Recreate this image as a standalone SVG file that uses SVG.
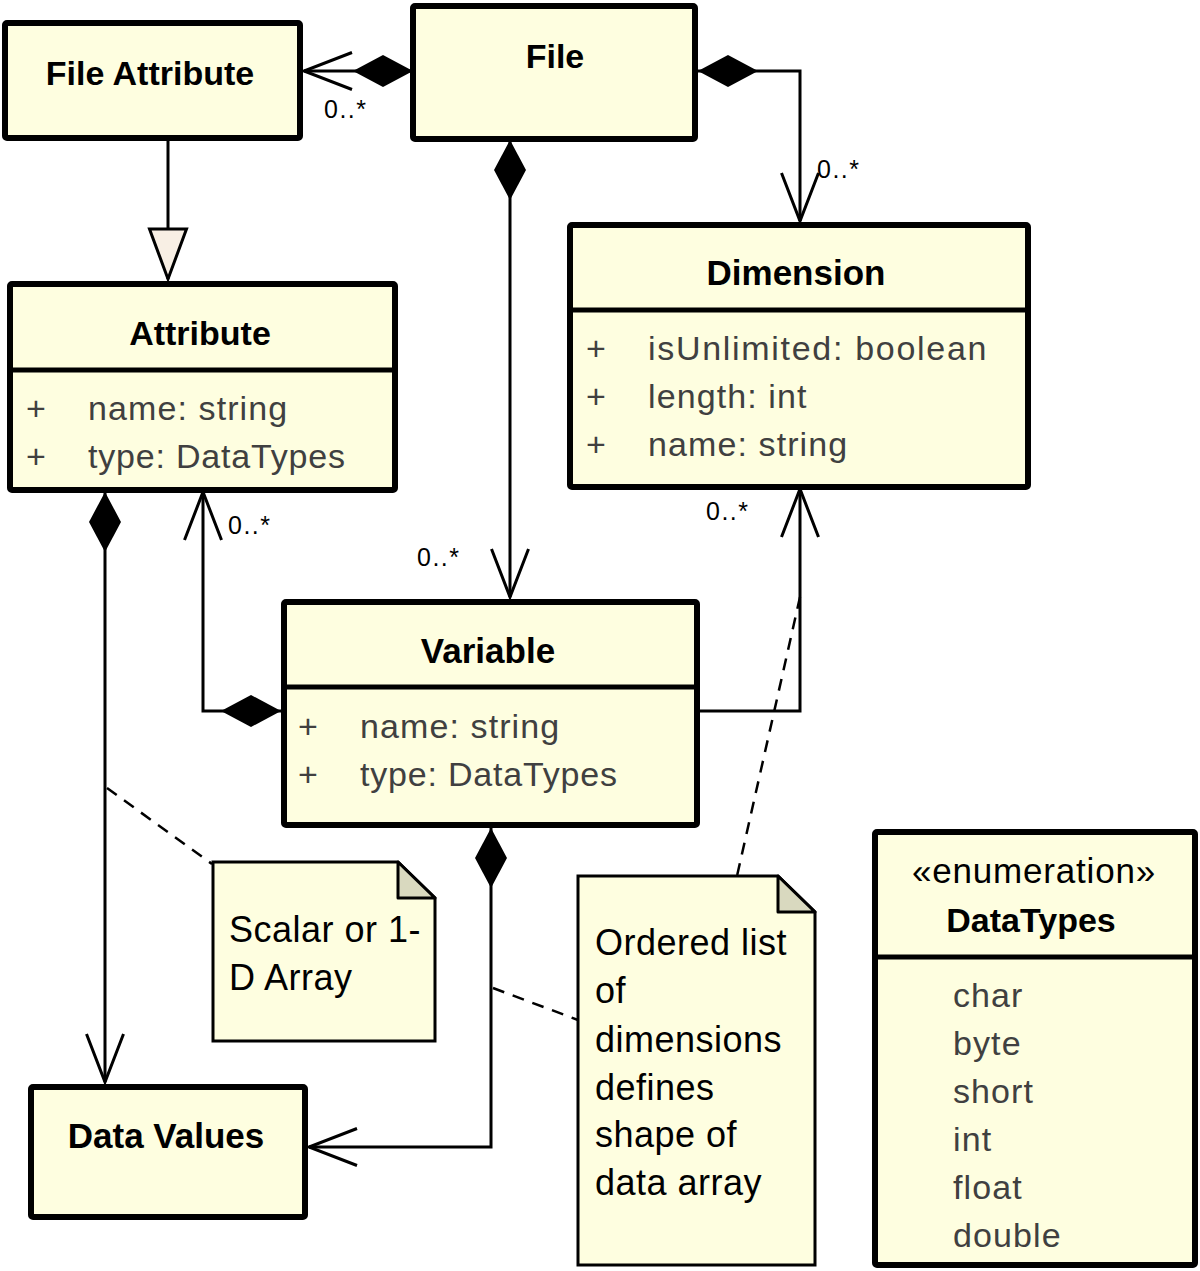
<svg xmlns="http://www.w3.org/2000/svg" width="1200" height="1271" viewBox="0 0 1200 1271">
<style>
.box{fill:#fefee0;stroke:#000;stroke-width:6}
.sep{stroke:#000;stroke-width:5}
.note{fill:#fefee0;stroke:#000;stroke-width:3}
.fold{fill:#d9d9bf;stroke:#000;stroke-width:3;stroke-linejoin:round}
.title{font-family:"Liberation Sans",Arial,sans-serif;font-weight:bold;font-size:34px;fill:#000;text-anchor:middle}
.attr{font-family:"Liberation Sans",Arial,sans-serif;font-size:34px;fill:#404040;letter-spacing:1.1px}
.ntxt{font-family:"Liberation Sans",Arial,sans-serif;font-size:36px;fill:#000;letter-spacing:0.5px}
.mult{font-family:"Liberation Sans",Arial,sans-serif;font-size:25px;fill:#000;letter-spacing:1.5px}
.line{fill:none;stroke:#000;stroke-width:3}
.dash{fill:none;stroke:#000;stroke-width:2.5;stroke-dasharray:12 9}
</style>
<defs>
<marker id="diamond" markerUnits="userSpaceOnUse" markerWidth="70" markerHeight="40" refX="0" refY="0" orient="auto" overflow="visible">
<path d="M0,0 L30,-16 L60,0 L30,16 Z" fill="#000"/>
</marker>
<marker id="open" markerUnits="userSpaceOnUse" markerWidth="60" markerHeight="40" refX="0" refY="0" orient="auto" overflow="visible">
<path d="M-48,-18.5 L0,0 L-48,18.5" fill="none" stroke="#000" stroke-width="3"/>
</marker>
<marker id="tri" markerUnits="userSpaceOnUse" markerWidth="60" markerHeight="40" refX="0" refY="0" orient="auto" overflow="visible">
<path d="M0,0 L-50,-18.5 L-50,18.5 Z" fill="#f8efe4" stroke="#000" stroke-width="3" stroke-linejoin="miter"/>
</marker>
</defs>

<g id="connectors">
<path class="line" d="M413,71 L304,71" marker-start="url(#diamond)" marker-end="url(#open)"/>
<path class="line" d="M698,71 L800,71 L800,221" marker-start="url(#diamond)" marker-end="url(#open)"/>
<path class="line" d="M510,140 L510,597" marker-start="url(#diamond)" marker-end="url(#open)"/>
<path class="line" d="M168,141 L168,279" marker-end="url(#tri)"/>
<path class="line" d="M105,492 L105,1082" marker-start="url(#diamond)" marker-end="url(#open)"/>
<path class="line" d="M281,711 L203,711 L203,492" marker-start="url(#diamond)" marker-end="url(#open)"/>
<path class="line" d="M699,711 L800,711 L800,489" marker-end="url(#open)"/>
<path class="line" d="M491,828 L491,1147 L309,1147" marker-start="url(#diamond)" marker-end="url(#open)"/>
<path class="dash" d="M107,788 L212,864"/>
<path class="dash" d="M493,988 L578,1020"/>
<path class="dash" d="M800,597 L737,876"/>
<text class="mult" x="324" y="118">0..*</text>
<text class="mult" x="817" y="178">0..*</text>
<text class="mult" x="417" y="566">0..*</text>
<text class="mult" x="228" y="534">0..*</text>
<text class="mult" x="706" y="520">0..*</text>
</g>

<g id="file-attribute">
<rect class="box" x="5" y="23" width="295" height="115" rx="2"/>
<text class="title" x="150" y="85">File Attribute</text>
</g>

<g id="file">
<rect class="box" x="413" y="6" width="282" height="133" rx="2"/>
<text class="title" x="555" y="68">File</text>
</g>

<g id="dimension">
<rect class="box" x="570" y="225" width="458" height="262" rx="2"/>
<line class="sep" x1="570" y1="310" x2="1028" y2="310"/>
<text class="title" x="796" y="285" style="font-size:35px">Dimension</text>
<text class="attr" x="586" y="360">+</text>
<text class="attr" x="648" y="360" style="letter-spacing:1.7px">isUnlimited: boolean</text>
<text class="attr" x="586" y="408">+</text>
<text class="attr" x="648" y="408">length: int</text>
<text class="attr" x="586" y="456">+</text>
<text class="attr" x="648" y="456">name: string</text>
</g>

<g id="attribute">
<rect class="box" x="10" y="284" width="385" height="206" rx="2"/>
<line class="sep" x1="10" y1="370" x2="395" y2="370"/>
<text class="title" x="200" y="345">Attribute</text>
<text class="attr" x="26" y="420">+</text>
<text class="attr" x="88" y="420">name: string</text>
<text class="attr" x="26" y="468">+</text>
<text class="attr" x="88" y="468" style="letter-spacing:0.8px">type: DataTypes</text>
</g>

<g id="variable">
<rect class="box" x="284" y="602" width="413" height="223" rx="2"/>
<line class="sep" x1="284" y1="687" x2="697" y2="687"/>
<text class="title" x="488" y="663" style="font-size:35px">Variable</text>
<text class="attr" x="298" y="738">+</text>
<text class="attr" x="360" y="738">name: string</text>
<text class="attr" x="298" y="786">+</text>
<text class="attr" x="360" y="786" style="letter-spacing:0.8px">type: DataTypes</text>
</g>

<g id="data-values">
<rect class="box" x="31" y="1087" width="274" height="130" rx="2"/>
<text class="title" x="166" y="1148" style="font-size:35px">Data Values</text>
</g>

<g id="note-scalar">
<path class="note" d="M213,862 L398,862 L435,898 L435,1041 L213,1041 Z"/>
<path class="fold" d="M398,862 L398,898 L435,898 Z"/>
<text class="ntxt" x="229" y="942">Scalar or 1-</text>
<text class="ntxt" x="229" y="990">D Array</text>
</g>

<g id="note-dimensions">
<path class="note" d="M578,876 L778,876 L815,912 L815,1265 L578,1265 Z"/>
<path class="fold" d="M778,876 L778,912 L815,912 Z"/>
<text class="ntxt" x="595" y="955">Ordered list</text>
<text class="ntxt" x="595" y="1003">of</text>
<text class="ntxt" x="595" y="1052">dimensions</text>
<text class="ntxt" x="595" y="1100">defines</text>
<text class="ntxt" x="595" y="1147">shape of</text>
<text class="ntxt" x="595" y="1195">data array</text>
</g>

<g id="datatypes">
<rect class="box" x="875" y="832" width="320" height="433" rx="2"/>
<line class="sep" x1="875" y1="957" x2="1195" y2="957"/>
<text x="1034" y="883" style="font-family:'Liberation Sans',Arial,sans-serif;font-size:35px;fill:#000;text-anchor:middle;letter-spacing:0.8px">«enumeration»</text>
<text class="title" x="1031" y="932">DataTypes</text>
<text class="attr" x="953" y="1007">char</text>
<text class="attr" x="953" y="1055">byte</text>
<text class="attr" x="953" y="1103">short</text>
<text class="attr" x="953" y="1151">int</text>
<text class="attr" x="953" y="1199">float</text>
<text class="attr" x="953" y="1247">double</text>
</g>
</svg>
